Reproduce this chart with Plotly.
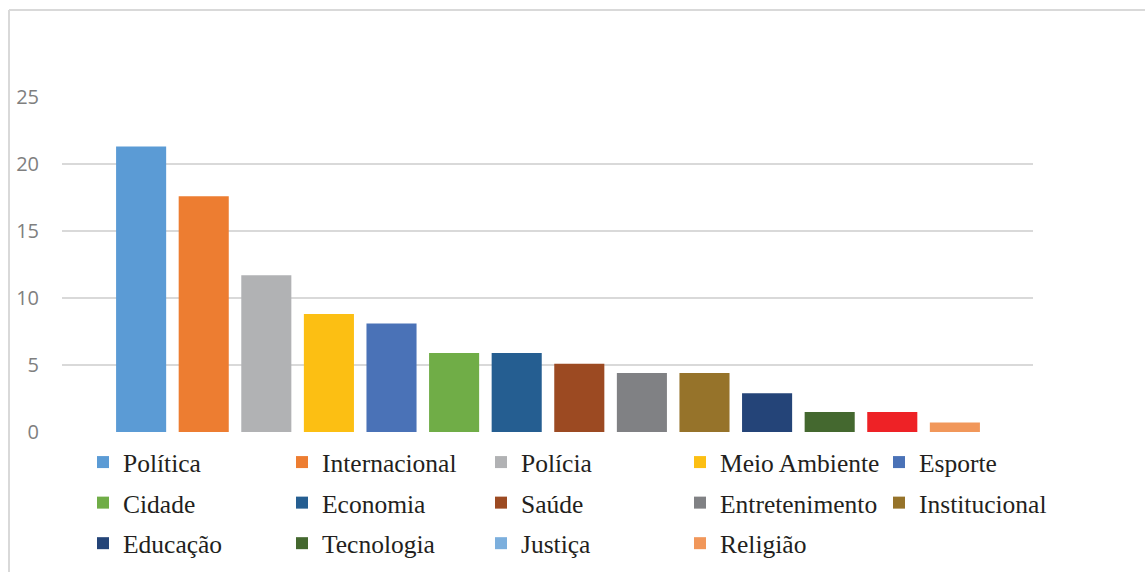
import plotly.graph_objects as go

categories = ["Política", "Internacional", "Polícia", "Meio Ambiente", "Esporte",
              "Cidade", "Economia", "Saúde", "Entretenimento", "Institucional",
              "Educação", "Tecnologia", "Justiça", "Religião"]
values = [21.3, 17.6, 11.7, 8.8, 8.1, 5.9, 5.9, 5.1, 4.4, 4.4, 2.9, 1.5, 1.5, 0.7]
bar_colors = ["#5B9BD5", "#ED7D31", "#B1B2B4", "#FCBF13", "#4A72B7",
              "#70AD47", "#255E91", "#9C4A22", "#808184", "#96732A",
              "#244478", "#44682F", "#EE2226", "#F1975A"]
legend_colors = ["#5B9BD5", "#ED7D31", "#B1B2B4", "#FCBF13", "#4A72B7",
                 "#70AD47", "#255E91", "#9C4A22", "#808184", "#96732A",
                 "#244478", "#44682F", "#7CAFDD", "#F1975A"]
y_ticks = [0, 5, 10, 15, 20, 25]

W, H = 1145, 572
L, T, B = 62, 97, 432
AX_R = 1033          # right end of the x axis / gridlines
R_MARGIN = 50        # plot area wider than the axis so the legend fits 5 columns
GS_W = W - L - R_MARGIN

fig = go.Figure()
for cat, val, bc, lc in zip(categories, values, bar_colors, legend_colors):
    same = bc == lc
    fig.add_trace(go.Bar(x=[cat], y=[val], name=cat, marker=dict(color=bc, line=dict(width=0)),
                         width=0.8, showlegend=same, legendgroup=cat))
    if not same:
        fig.add_trace(go.Bar(x=[cat], y=[None], name=cat, marker=dict(color=lc, line=dict(width=0)),
                             width=0.8, showlegend=True, legendgroup=cat))

def px2paper_x(px):
    return (px - L) / GS_W

def px2paper_y(py):
    return (B - py) / (B - T)

fig.update_layout(
    width=W, height=H,
    margin=dict(l=L, r=R_MARGIN, t=T, b=H - B, pad=0, autoexpand=False),
    paper_bgcolor="white", plot_bgcolor="white",
    barmode="overlay",
    xaxis=dict(type="category", categoryorder="array", categoryarray=categories,
               domain=[0, (AX_R - L) / GS_W],
               range=[-1.264, 14.248], showticklabels=False, showgrid=False,
               zeroline=False, showline=False, ticks=""),
    yaxis=dict(range=[0, 25], tickvals=y_ticks, showgrid=True, gridcolor="#D9D9D9",
               gridwidth=1.5, zeroline=False, showline=False, ticks="",
               tickfont=dict(family="Open Sans", size=20, color="#7F7F7F"),
               ticklabelstandoff=22),
    showlegend=True,
    legend=dict(orientation="h", xref="paper", yref="container",
                x=px2paper_x(83), y=1 - 439 / H, xanchor="left", yanchor="top",
                entrywidth=154, entrywidthmode="pixels",
                traceorder="grouped", tracegroupgap=4.4,
                font=dict(family="Liberation Serif", size=25.5, color="#231F20"),
                bgcolor="rgba(0,0,0,0)", borderwidth=0,
                itemclick=False, itemdoubleclick=False),
    shapes=[
        dict(type="line", xref="paper", yref="paper",
             x0=px2paper_x(9), x1=px2paper_x(1150), y0=px2paper_y(10), y1=px2paper_y(10),
             line=dict(color="#D9D9D9", width=2)),
        dict(type="line", xref="paper", yref="paper",
             x0=px2paper_x(9), x1=px2paper_x(9), y0=px2paper_y(10), y1=px2paper_y(580),
             line=dict(color="#D9D9D9", width=2)),
    ],
)

fig.write_html("out.html")
